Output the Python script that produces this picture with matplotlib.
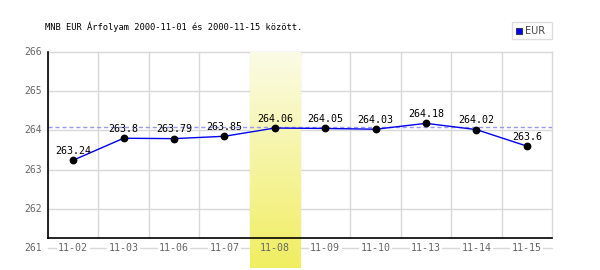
import matplotlib
matplotlib.use("Agg")
import matplotlib.pyplot as plt
import numpy as np
from matplotlib.colors import LinearSegmentedColormap

categories = ["11-02", "11-03", "11-06", "11-07", "11-08", "11-09", "11-10", "11-13", "11-14", "11-15"]
values = [263.24, 263.8, 263.79, 263.85, 264.06, 264.05, 264.03, 264.18, 264.02, 263.6]
yticks = [261, 262, 263, 264, 265, 266]
ref_value = 264.09
highlight_index = 4
title = "MNB EUR Árfolyam 2000-11-01 és 2000-11-15 között."
series_name = "EUR"

fig = plt.figure(figsize=(6, 2.7), dpi=100)
ax = fig.add_axes([0.08, 1 - 248 / 270, 0.84, (248 - 52) / 270])
n = len(categories)
ax.set_xlim(-0.5, n - 0.5)
ax.set_ylim(261, 266)
for s in ax.spines.values():
    s.set_visible(False)
ax.set_xticks([])
ax.set_yticks([])

mono = "DejaVu Sans Mono"
grid_c = "#d8d8d8"
for y in yticks:
    ax.plot([-0.5, n - 0.5], [y, y], color=grid_c, lw=1, zorder=1, clip_on=False)
for i in range(n + 1):
    ax.plot([i - 0.5, i - 0.5], [261.25, 266], color=grid_c, lw=1, zorder=1, clip_on=False)

# highlight band with gradient
cmap = LinearSegmentedColormap.from_list("band", ["#f0ee60", "#fbfbe6"])
grad = np.linspace(0, 1, 256).reshape(-1, 1)
ax.imshow(grad, cmap=cmap, aspect="auto", origin="lower",
          extent=[highlight_index - 0.5, highlight_index + 0.5, 260.49, 266],
          zorder=2, clip_on=False)
ax.set_xlim(-0.5, n - 0.5)
ax.set_ylim(261, 266)

# axes lines
ax.plot([-0.5, -0.5], [261.25, 266], color="black", lw=1.2, zorder=4, clip_on=False)
ax.plot([-0.5, n - 0.5], [261.25, 261.25], color="black", lw=1.2, zorder=4, clip_on=False)

# reference dashed line
ax.plot([-0.5, n - 0.5], [ref_value, ref_value], color="#9999ee", lw=1, ls=(0, (3, 2)), zorder=3)

x = np.arange(n)
ax.plot(x, values, color="#0000ee", lw=1, zorder=5)
ax.plot(x, values, "o", color="black", ms=4.6, zorder=6)
for xi, v in zip(x, values):
    ax.annotate(f"{v:g}", (xi, v), xytext=(0, 3), textcoords="offset points",
                ha="center", va="bottom", fontsize=7.2, family=mono, color="black", zorder=7)

for i, c in enumerate(categories):
    bbox = None if i == highlight_index else dict(facecolor="white", edgecolor="none", pad=1)
    ax.text(i, 261, c, ha="center", va="center", fontsize=7.2, family=mono, color="#666666",
            zorder=8, bbox=bbox)
for y in yticks:
    ax.text(-0.5 - 0.12, y, str(y), ha="right", va="center", fontsize=7, family=mono,
            color="#666666", transform=ax.transData)

fig.text(45 / 600, 1 - 27 / 270, title, fontsize=6.3, family=mono, color="black",
         ha="left", va="center")

# legend
lx0, ly0, lw_, lh = 512, 22, 40, 17
fig.patches.append(plt.Rectangle((lx0 / 600, 1 - (ly0 + lh) / 270), lw_ / 600, lh / 270,
                                 transform=fig.transFigure, facecolor="white",
                                 edgecolor="#dddddd", lw=1))
fig.patches.append(plt.Rectangle((516 / 600, 1 - 34 / 270), 6 / 600, 6 / 270,
                                 transform=fig.transFigure, facecolor="#0000ee",
                                 edgecolor="#333366", lw=0.8))
fig.text(525 / 600, 1 - 31 / 270, series_name, fontsize=7, family="DejaVu Sans",
         color="#444444", ha="left", va="center")

fig.savefig("out.png", dpi=100)
